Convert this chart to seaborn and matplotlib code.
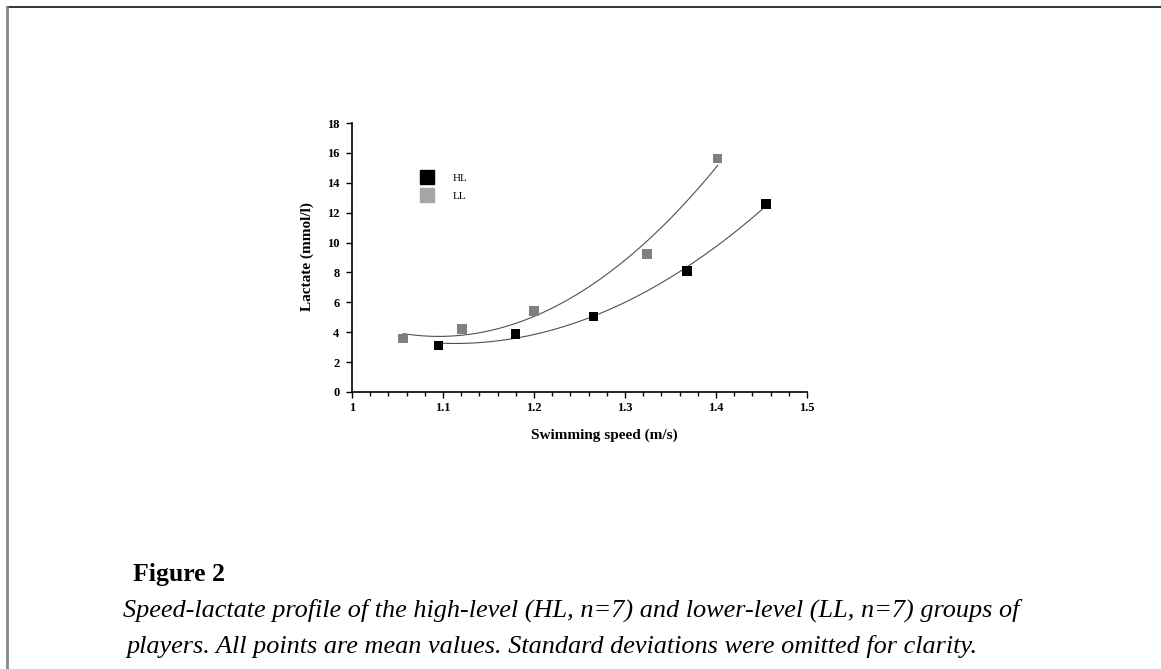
import numpy as np
import pandas as pd
import matplotlib
matplotlib.use("Agg")
import matplotlib.pyplot as plt
from matplotlib.lines import Line2D
from matplotlib.ticker import MultipleLocator, FuncFormatter
import seaborn as sns

# mean values
hl_speed = [1.095, 1.180, 1.265, 1.368, 1.455]
hl_lactate = [3.13, 3.87, 5.07, 8.10, 12.59]
ll_speed = [1.056, 1.121, 1.200, 1.324, 1.402]
ll_lactate = [3.56, 4.21, 5.41, 9.24, 15.61]

groups = ["HL", "LL"]
point_colors = {"HL": "#000000", "LL": "#808080"}
legend_colors = {"HL": "#000000", "LL": "#a6a6a6"}

df = pd.concat([
    pd.DataFrame({"speed": hl_speed, "lactate": hl_lactate, "group": "HL"}),
    pd.DataFrame({"speed": ll_speed, "lactate": ll_lactate, "group": "LL"}),
])

sns.set_style("ticks")
plt.rcParams['font.family'] = ['Liberation Serif', 'DejaVu Serif']
plt.rcParams['text.color'] = 'black'
plt.rcParams['axes.labelcolor'] = 'black'
plt.rcParams['xtick.color'] = 'black'
plt.rcParams['ytick.color'] = 'black'
plt.rcParams['axes.edgecolor'] = 'black'

fig = plt.figure(figsize=(11.61, 6.69), dpi=100)
ax = fig.add_axes([0.3032, 0.4141, 0.3919, 0.402])

# second order trend lines
for g in groups:
    sub = df[df["group"] == g]
    sns.regplot(data=sub, x="speed", y="lactate", order=2, ci=None,
                scatter=False, ax=ax,
                line_kws={"color": "#505050", "lw": 0.8})

sns.scatterplot(data=df, x="speed", y="lactate", hue="group",
                palette=point_colors, marker="s", s=45, linewidth=0,
                ax=ax, legend=False, zorder=3)

ax.set_xlim(1, 1.5)
ax.set_ylim(0, 18)
ax.xaxis.set_major_locator(MultipleLocator(0.1))
ax.xaxis.set_minor_locator(MultipleLocator(0.02))
ax.yaxis.set_major_locator(MultipleLocator(2))
ax.xaxis.set_major_formatter(FuncFormatter(lambda v, p: f"{v:g}"))
ax.tick_params(axis="both", which="major", direction="out", length=4,
               width=1, labelsize=9)
ax.tick_params(axis="x", which="major", pad=3)
ax.tick_params(axis="y", which="major", pad=5)
ax.tick_params(axis="x", which="minor", direction="out", length=3, width=1)
for lab in ax.get_xticklabels() + ax.get_yticklabels():
    lab.set_fontweight("bold")
for sp in ["left", "bottom"]:
    ax.spines[sp].set_linewidth(1.2)
sns.despine(ax=ax)

ax.set_xlabel("Swimming speed (m/s)", fontsize=11, fontweight="bold")
ax.set_ylabel("Lactate (mmol/l)", fontsize=11, fontweight="bold")
ax.xaxis.set_label_coords(0.555, -0.135)
ax.yaxis.set_label_coords(-0.083, 0.505)

handles = [Line2D([], [], marker="s", ls="", color=legend_colors[g],
                  markersize=9.5, label=g) for g in groups]
ax.legend(handles=handles, loc="upper left", bbox_to_anchor=(0.118, 0.85),
          frameon=False, fontsize=8, handletextpad=1.3, labelspacing=0.75)

# page frame
fig.add_artist(Line2D([0.006, 1], [0.9895, 0.9895], color="#111111", lw=1.2))
fig.add_artist(Line2D([0.006, 0.006], [0, 0.9895], color="#888888", lw=2))

fig.text(133 / 1161, 1 - 581 / 669, "Figure 2", fontsize=18.5, fontweight="bold",
         va="baseline", ha="left")
fig.text(123 / 1161, 1 - 617 / 669,
         "Speed-lactate profile of the high-level (HL, n=7) and lower-level (LL, n=7) groups of",
         fontsize=18.9, style="italic", va="baseline", ha="left")
fig.text(127 / 1161, 1 - 653 / 669,
         "players. All points are mean values. Standard deviations were omitted for clarity.",
         fontsize=18.9, style="italic", va="baseline", ha="left")

fig.savefig("out.png", dpi=100)
